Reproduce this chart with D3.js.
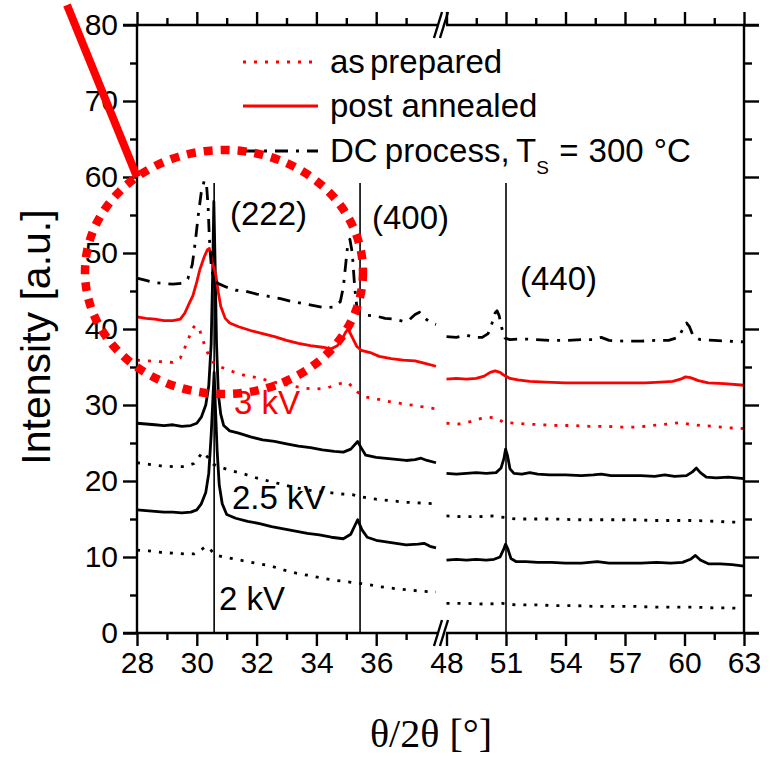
<!DOCTYPE html>
<html>
<head>
<meta charset="utf-8">
<script src="https://cdn.jsdelivr.net/npm/d3@7"></script>
<style>
  body { margin: 0; background: #fff; }
</style>
</head>
<body>
<div id="chart"></div>
<script>
// --- data (theta/2theta in degrees, intensity a.u.) ---
const dcLeft = [[28.0,46.7],[28.3,46.4],[28.6,46.1],[28.9,46.0],[29.2,45.9],[29.5,46.0],[29.7,46.6],[29.85,48.5],[29.95,51.5],[30.05,55],[30.15,58],[30.25,59.5],[30.32,59.3],[30.38,56],[30.42,52],[30.48,48.5],[30.55,46.8],[30.7,46],[31.0,45.5],[31.3,45.1],[31.6,45.0],[32.0,44.6],[32.4,44.3],[32.8,44.0],[33.2,43.6],[33.6,43.3],[34.0,43.0],[34.3,42.8],[34.6,42.9],[34.8,43.6],[34.9,45.5],[34.98,48.5],[35.05,51.2],[35.12,51.8],[35.2,50],[35.28,45.5],[35.35,43],[35.45,42.0],[35.7,41.8],[36.0,41.7],[36.3,41.4],[36.6,41.3],[36.9,41.0],[37.1,41.2],[37.3,41.9],[37.45,42.2],[37.6,41.5],[37.8,40.9],[38.0,40.6]];
const dcRight = [[48.0,39.0],[48.5,38.9],[49.0,39.2],[49.4,38.9],[49.8,38.9],[50.1,39.4],[50.3,40.8],[50.45,42.1],[50.55,42.4],[50.65,41.8],[50.8,40.0],[50.95,38.8],[51.2,38.6],[51.8,38.7],[52.5,38.6],[53.2,38.5],[54.0,38.5],[54.8,38.6],[55.4,38.6],[55.8,38.9],[56.2,38.5],[57.0,38.4],[57.8,38.4],[58.5,38.5],[59.2,38.5],[59.7,38.9],[59.95,40.2],[60.1,40.8],[60.25,40.3],[60.45,39.0],[60.8,38.6],[61.5,38.5],[62.2,38.4],[63.0,38.3]];

const annLeft = [[28.0,41.6],[28.3,41.4],[28.6,41.3],[28.9,41.1],[29.2,41.1],[29.45,41.3],[29.6,42.1],[29.75,43.4],[29.87,44.4],[30.0,46.2],[30.1,47.8],[30.25,49.5],[30.35,50.4],[30.42,50.6],[30.5,49.0],[30.64,47.0],[30.72,44.8],[30.8,43.0],[30.95,41.4],[31.1,40.8],[31.4,40.3],[31.8,39.8],[32.2,39.4],[32.6,39.0],[33.0,38.5],[33.4,38.1],[33.8,37.8],[34.2,37.6],[34.5,37.4],[34.7,37.8],[34.85,38.6],[34.98,39.6],[35.06,40.0],[35.2,38.9],[35.35,37.7],[35.5,37.2],[35.8,36.9],[36.1,36.4],[36.5,36.1],[36.9,35.9],[37.3,35.8],[37.6,35.5],[38.0,35.1]];
const annRight = [[48.0,33.4],[48.5,33.5],[49.0,33.4],[49.5,33.5],[49.9,33.8],[50.2,34.3],[50.45,34.5],[50.7,34.3],[50.9,33.9],[51.2,33.5],[51.6,33.3],[52.2,33.1],[53.0,33.0],[54.0,32.9],[55.0,32.9],[56.0,32.9],[57.0,32.9],[58.0,32.9],[58.8,33.0],[59.4,33.1],[59.8,33.4],[60.05,33.7],[60.3,33.6],[60.7,33.2],[61.2,32.9],[62.0,32.8],[63.0,32.6]];

const prepLeft = [[28.0,35.9],[28.4,35.8],[28.8,35.7],[29.2,35.6],[29.45,36.2],[29.65,38.0],[29.85,40.0],[29.95,40.5],[30.1,39.8],[30.25,38.0],[30.4,36.5],[30.55,35.6],[30.8,35.0],[31.2,34.4],[31.6,33.9],[32.0,33.6],[32.4,33.2],[32.8,32.8],[33.2,32.5],[33.6,32.2],[34.0,32.1],[34.4,32.3],[34.7,32.7],[34.95,33.0],[35.1,32.8],[35.3,31.9],[35.6,31.1],[36.0,30.8],[36.5,30.4],[37.0,30.1],[37.5,29.8],[38.0,29.5]];
const prepRight = [[48.0,27.6],[48.6,27.5],[49.2,27.8],[49.7,28.2],[50.1,28.4],[50.5,28.3],[50.9,27.7],[51.4,27.6],[52.0,27.5],[52.8,27.4],[53.6,27.3],[54.4,27.3],[55.2,27.2],[56.0,27.2],[56.8,27.1],[57.6,27.1],[58.4,27.3],[59.2,27.5],[59.8,27.7],[60.2,27.5],[60.8,27.3],[61.5,27.2],[62.2,27.0],[63.0,26.9]];

const kv25AnnLeft = [[28.0,27.6],[28.3,27.5],[28.6,27.4],[28.9,27.3],[29.2,27.4],[29.5,27.2],[29.8,27.3],[30.0,27.6],[30.15,28.4],[30.3,30.0],[30.4,32.5],[30.48,38],[30.53,47],[30.57,56.8],[30.61,49],[30.66,38],[30.72,31.5],[30.8,28.8],[30.9,27.3],[31.1,26.6],[31.4,26.3],[31.8,25.8],[32.2,25.4],[32.6,25.2],[33.0,24.9],[33.4,24.6],[33.8,24.4],[34.2,24.1],[34.6,23.9],[34.9,23.8],[35.15,24.2],[35.38,25.2],[35.52,24.2],[35.65,23.4],[36.0,23.1],[36.5,22.9],[37.0,22.7],[37.3,22.8],[37.5,23.0],[37.7,22.7],[38.0,22.4]];
const kv25AnnRight = [[48.0,21.0],[48.5,20.9],[49.0,21.0],[49.5,21.1],[50.0,21.0],[50.5,21.1],[50.75,21.7],[50.9,23.0],[50.98,24.2],[51.08,23.3],[51.2,21.6],[51.4,21.0],[51.8,20.9],[52.2,21.1],[52.6,20.9],[53.2,20.8],[54.0,20.8],[54.8,20.7],[55.4,20.8],[55.8,20.9],[56.3,20.7],[57.0,20.7],[57.8,20.7],[58.5,20.6],[59.0,20.8],[59.5,20.6],[60.1,20.7],[60.4,21.2],[60.6,21.7],[60.8,21.1],[61.1,20.5],[61.6,20.4],[62.2,20.5],[63.0,20.3]];

const kv25PrepLeft = [[28.0,22.4],[28.4,22.2],[28.8,22.0],[29.2,21.9],[29.6,21.9],[29.9,22.3],[30.1,23.3],[30.2,23.8],[30.35,23.2],[30.55,22.2],[30.8,21.8],[31.2,21.3],[31.6,20.9],[32.0,20.4],[32.4,20.0],[32.8,19.6],[33.2,19.2],[33.6,18.9],[34.0,18.6],[34.4,18.5],[34.8,18.3],[35.2,18.2],[35.5,17.9],[36.0,17.6],[36.5,17.4],[37.0,17.2],[37.5,17.1],[38.0,17.0]];
const kv25PrepRight = [[48.0,15.4],[48.8,15.3],[49.6,15.3],[50.3,15.4],[50.9,15.2],[51.5,15.0],[52.5,15.0],[53.5,15.0],[54.5,14.9],[55.5,14.9],[56.5,14.9],[57.5,14.9],[58.5,14.8],[59.5,14.8],[60.5,14.8],[61.5,14.7],[62.3,14.6],[63.0,14.6]];

const kv2AnnLeft = [[28.0,16.2],[28.3,16.1],[28.6,16.0],[28.9,15.9],[29.2,15.9],[29.5,15.8],[29.8,15.9],[30.0,16.2],[30.15,17.0],[30.3,18.5],[30.4,21],[30.48,26],[30.54,31],[30.58,34.3],[30.62,30],[30.68,24],[30.75,19.5],[30.85,17.0],[31.0,15.6],[31.3,15.1],[31.7,14.7],[32.1,14.4],[32.5,14.0],[32.9,13.7],[33.3,13.4],[33.7,13.1],[34.1,12.9],[34.5,12.6],[34.9,12.4],[35.15,13.0],[35.38,14.9],[35.52,13.6],[35.7,12.6],[36.0,12.2],[36.5,11.9],[37.0,11.6],[37.4,11.7],[37.6,11.8],[37.8,11.4],[38.0,11.2]];
const kv2AnnRight = [[48.0,9.6],[48.5,9.7],[49.0,9.6],[49.5,9.7],[50.0,9.6],[50.4,9.7],[50.7,10.0],[50.88,11.0],[50.98,11.7],[51.1,11.0],[51.25,9.8],[51.5,9.4],[52.0,9.4],[52.6,9.3],[53.3,9.3],[54.0,9.2],[54.8,9.2],[55.6,9.4],[56.2,9.2],[57.0,9.2],[57.8,9.2],[58.6,9.3],[59.3,9.2],[59.9,9.3],[60.3,9.7],[60.55,10.2],[60.8,9.6],[61.2,9.1],[61.8,9.1],[62.4,9.0],[63.0,8.8]];

const kv2PrepLeft = [[28.0,10.9],[28.4,10.8],[28.8,10.6],[29.2,10.5],[29.6,10.4],[29.9,10.4],[30.1,10.8],[30.3,11.4],[30.45,11.0],[30.6,10.3],[30.9,10.0],[31.3,9.7],[31.7,9.4],[32.1,9.1],[32.5,8.8],[32.9,8.3],[33.3,7.9],[33.7,7.6],[34.1,7.3],[34.5,7.0],[34.9,6.8],[35.3,6.6],[35.7,6.4],[36.1,6.1],[36.5,5.9],[37.0,5.7],[37.5,5.5],[38.0,5.4]];
const kv2PrepRight = [[48.0,3.9],[49.0,3.9],[50.0,3.8],[50.8,3.9],[51.5,3.7],[52.5,3.7],[53.5,3.6],[54.5,3.6],[55.5,3.5],[56.5,3.5],[57.5,3.5],[58.5,3.4],[59.5,3.4],[60.5,3.4],[61.5,3.3],[62.3,3.3],[63.0,3.2]];

// reflection positions and labels
const reflections = [{pos: 30.58, label: "(222)"}, {pos: 35.46, label: "(400)"}, {pos: 51.0, label: "(440)"}];
const leftTicks = [28, 30, 32, 34, 36];
const leftMinor = [29, 31, 33, 35, 37];
const rightTicks = [48, 51, 54, 57, 60, 63];
const rightMinor = [49.5, 52.5, 55.5, 58.5, 61.5];
const yTicks = [0, 10, 20, 30, 40, 50, 60, 70, 80];
const yMinor = [5, 15, 25, 35, 45, 55, 65, 75];

// --- layout ---
const W = 778, H = 758;
const SANS = "'Liberation Sans', Arial, sans-serif";
const svg = d3.select("#chart").append("svg").attr("width", W).attr("height", H)
  .attr("font-family", SANS);

const xL = d3.scaleLinear().domain([28, 38]).range([137, 436]);
const xR = d3.scaleLinear().domain([48, 63]).range([446.5, 744]);
const y = d3.scaleLinear().domain([0, 80]).range([633, 25]);
const xAny = v => v < 40 ? xL(v) : xR(v);

const RED = "#ff0000";
const DOT = "3,8", DASHDOT = "13,8,3,8";

// --- curves ---
const series = [
  {l: kv2PrepLeft, r: kv2PrepRight, color: "#000", dash: DOT},
  {l: kv2AnnLeft, r: kv2AnnRight, color: "#000", dash: null},
  {l: kv25PrepLeft, r: kv25PrepRight, color: "#000", dash: DOT},
  {l: kv25AnnLeft, r: kv25AnnRight, color: "#000", dash: null},
  {l: prepLeft, r: prepRight, color: RED, dash: DOT},
  {l: annLeft, r: annRight, color: RED, dash: null},
  {l: dcLeft, r: dcRight, color: "#000", dash: DASHDOT}
];
const lineL = d3.line().x(d => xL(d[0])).y(d => y(d[1]));
const lineR = d3.line().x(d => xR(d[0])).y(d => y(d[1]));

// reflection lines
reflections.forEach(r => {
  svg.append("line").attr("x1", xAny(r.pos)).attr("x2", xAny(r.pos))
    .attr("y1", y(0)).attr("y2", y(59.2)).attr("stroke", "#000").attr("stroke-width", 1.6);
});

series.forEach(s => {
  [[s.l, lineL], [s.r, lineR]].forEach(([data, gen]) => {
    svg.append("path").attr("d", gen(data)).attr("fill", "none")
      .attr("stroke", s.color).attr("stroke-width", 2.8)
      .attr("stroke-linejoin", "round")
      .attr("stroke-dasharray", s.dash);
  });
});

// --- axes ---
const ax = svg.append("g").attr("stroke", "#000").attr("stroke-width", 2.4).attr("fill", "none");
ax.append("line").attr("x1", 137).attr("x2", 137).attr("y1", y(0)).attr("y2", y(80));
ax.append("line").attr("x1", 744).attr("x2", 744).attr("y1", y(0)).attr("y2", y(80));
[y(0), y(80)].forEach(yy => {
  ax.append("line").attr("x1", 123).attr("x2", 437).attr("y1", yy).attr("y2", yy);
  ax.append("line").attr("x1", 446).attr("x2", 759).attr("y1", yy).attr("y2", yy);
  // break marks
  [0, 6].forEach(dx => {
    ax.append("line").attr("x1", 434 + dx).attr("x2", 442 + dx)
      .attr("y1", yy + 13).attr("y2", yy - 13);
  });
});

function styleAxis(g) {
  g.select(".domain").remove();
  g.selectAll("line").attr("stroke", "#000").attr("stroke-width", 2.4);
  g.selectAll("text").attr("font-size", 30).attr("fill", "#000").attr("font-family", SANS);
}
// bottom and top
[[xL, leftTicks, leftMinor], [xR, rightTicks, rightMinor]].forEach(([sc, maj, mn]) => {
  svg.append("g").attr("transform", `translate(0,${y(0)})`)
    .call(d3.axisBottom(sc).tickValues(maj).tickSize(13).tickPadding(6).tickSizeOuter(0).tickFormat(d3.format("d")))
    .call(styleAxis);
  svg.append("g").attr("transform", `translate(0,${y(0)})`)
    .call(d3.axisBottom(sc).tickValues(mn).tickSize(7).tickFormat("").tickSizeOuter(0)).call(styleAxis);
  svg.append("g").attr("transform", `translate(0,${y(80)})`)
    .call(d3.axisTop(sc).tickValues(maj).tickSize(13).tickFormat("").tickSizeOuter(0)).call(styleAxis);
  svg.append("g").attr("transform", `translate(0,${y(80)})`)
    .call(d3.axisTop(sc).tickValues(mn).tickSize(7).tickFormat("").tickSizeOuter(0)).call(styleAxis);
});
// left and right
svg.append("g").attr("transform", "translate(137,0)")
  .call(d3.axisLeft(y).tickValues(yTicks).tickSize(14).tickPadding(5).tickSizeOuter(0)).call(styleAxis);
svg.append("g").attr("transform", "translate(137,0)")
  .call(d3.axisLeft(y).tickValues(yMinor).tickSize(7).tickFormat("").tickSizeOuter(0)).call(styleAxis);
svg.append("g").attr("transform", "translate(744,0)")
  .call(d3.axisRight(y).tickValues(yTicks).tickSize(15).tickFormat("").tickSizeOuter(0)).call(styleAxis);
svg.append("g").attr("transform", "translate(744,0)")
  .call(d3.axisRight(y).tickValues(yMinor).tickSize(8).tickFormat("").tickSizeOuter(0)).call(styleAxis);

// axis titles
svg.append("text").attr("transform", "translate(50,337) rotate(-90)")
  .attr("text-anchor", "middle").attr("font-size", 41).text("Intensity [a.u.]");
svg.append("text").attr("x", 431).attr("y", 747).attr("text-anchor", "middle")
  .attr("font-family", "'Liberation Serif', 'Times New Roman', serif").attr("font-size", 40)
  .text("θ/2θ [°]");

// reflection labels
const reflY = [225, 229, 290];
const reflX = [230, 372, 520];
reflections.forEach((r, i) => {
  svg.append("text").attr("x", reflX[i]).attr("y", reflY[i]).attr("font-size", 33).text(r.label);
});

// voltage labels
svg.append("text").attr("x", 234).attr("y", 414).attr("font-size", 33).attr("fill", RED).text("3 kV");
svg.append("text").attr("x", 232).attr("y", 509).attr("font-size", 33).text("2.5 kV");
svg.append("text").attr("x", 219).attr("y", 610).attr("font-size", 33).text("2 kV");

// legend
const legend = [
  {y: 62, color: RED, dash: DOT, text: "as prepared", ws: -4},
  {y: 106, color: RED, dash: null, text: "post annealed", ws: 0},
  {y: 151, color: "#000", dash: DASHDOT, text: "DC process, T", ws: -2}
];
legend.forEach(l => {
  svg.append("line").attr("x1", 243).attr("x2", 318).attr("y1", l.y).attr("y2", l.y)
    .attr("stroke", l.color).attr("stroke-width", 2.8).attr("stroke-dasharray", l.dash);
  const t = svg.append("text").attr("x", 330).attr("y", l.y + 11).attr("font-size", 33)
    .attr("word-spacing", l.ws).text(l.text);
  if (l.text.startsWith("DC")) {
    t.append("tspan").attr("font-size", 19).attr("dy", 12).text("S");
    t.append("tspan").attr("dy", -12).attr("font-size", 33).attr("word-spacing", 1).text(" = 300 °C");
  }
});

// red annotation: thick line and dotted ellipse
svg.append("line").attr("x1", 67).attr("y1", 5).attr("x2", xL(28)).attr("y2", y(60))
  .attr("stroke", RED).attr("stroke-width", 8);
svg.append("ellipse").attr("cx", 224).attr("cy", 272).attr("rx", 139).attr("ry", 122)
  .attr("fill", "none").attr("stroke", RED).attr("stroke-width", 8.5).attr("stroke-dasharray", "9,8");
</script>
</body>
</html>
